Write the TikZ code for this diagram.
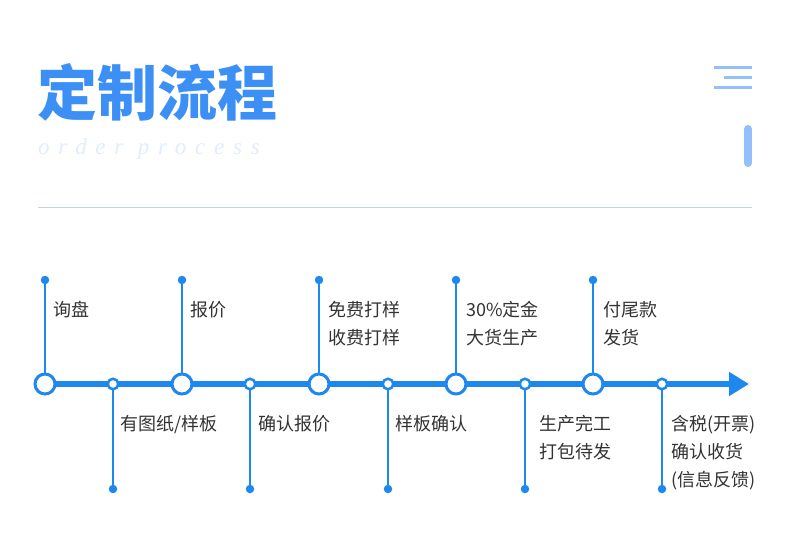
\documentclass[tikz,border=0pt]{standalone}
\usepackage{fontspec}
\usetikzlibrary{arrows.meta}
\setmainfont{Noto Sans CJK SC}
\newfontfamily\titlefont{Noto Sans CJK SC}
\newfontfamily\ordfont{Liberation Serif}[LetterSpace=38]
\definecolor{mainblue}{HTML}{1F88EE}
\definecolor{titleblue}{HTML}{3B8FF5}
\definecolor{textgray}{HTML}{333333}
\definecolor{iconblue}{HTML}{93C0FA}
\definecolor{ordblue}{HTML}{E2EDFC}
\definecolor{sepline}{HTML}{C4D3E6}
\tikzset{
  bigc/.style={circle,draw=mainblue,line width=3pt,fill=white,minimum size=20pt,inner sep=0pt},
  smallc/.style={circle,draw=mainblue,line width=2.5pt,fill=white,minimum size=10.5pt,inner sep=0pt},
  dotc/.style={circle,fill=mainblue,minimum size=8.5pt,inner sep=0pt},
  vline/.style={draw=mainblue,line width=2pt},
  lbl/.style={anchor=north west,inner sep=0pt,align=left,text=textgray,font=\fontsize{18}{28}\selectfont},
}
\begin{document}
\begin{tikzpicture}[x=1pt,y=-1pt]
\useasboundingbox (0,0) rectangle (790,549);
\fill[white] (0,0) rectangle (790,549);
% title
\node[anchor=west,inner sep=0pt,text=titleblue,font=\titlefont\bfseries\fontsize{60}{60}\selectfont] (title) at (37,92) {定制流程};
\node[anchor=west,inner sep=0pt,text=ordblue,font=\ordfont\itshape\fontsize{23}{23}\selectfont] (sub) at (38,149) {order process};
% icon
\draw[iconblue,line width=3pt] (714,67) -- (752,67);
\draw[iconblue,line width=3pt] (724,77) -- (752,77);
\draw[iconblue,line width=3pt] (714,87) -- (752,87);
\draw[iconblue,line width=8pt,line cap=round] (748,129) -- (748,163);
% separator
\draw[sepline,line width=1pt] (38,207) -- (752,207);
% main line
\coordinate (tip) at (749,384);
\coordinate (start) at (45,384);
\draw[mainblue,line width=6pt,-{Triangle[length=20pt,width=23pt]}] (start) -- (tip);
% verticals
\foreach \i/\x in {1/45,2/182,3/319,4/456,5/593}{
  \node[dotc] (T\i) at (\x,280) {};
  \draw[vline] (T\i.center) -- (\x,384);
}
\foreach \i/\x in {1/113,2/250,3/388,4/525,5/662}{
  \node[dotc] (D\i) at (\x,489) {};
  \draw[vline] (D\i.center) -- (\x,384);
}
\foreach \i/\x in {1/45,2/182,3/319,4/456,5/593}{
  \node[bigc] (B\i) at (\x,384) {};
}
\foreach \i/\x in {1/113,2/250,3/388,4/525,5/662}{
  \node[smallc] (S\i) at (\x,384) {};
}
% labels top
\node[lbl] (L1) at (53,301) {询盘};
\node[lbl] (L2) at (190,301) {报价};
\node[lbl] (L3) at (328,301) {免费打样\\收费打样};
\node[lbl] (L4) at (466,301) {30\%定金\\大货生产};
\node[lbl] (L5) at (603,301) {付尾款\\发货};
% labels bottom
\node[lbl] (M1) at (120,415) {有图纸/样板};
\node[lbl] (M2) at (258,415) {确认报价};
\node[lbl] (M3) at (395,415) {样板确认};
\node[lbl] (M4) at (539,415) {生产完工\\打包待发};
\node[lbl] (M5) at (671,415) {含税(开票)\\确认收货\\(信息反馈)};
\end{tikzpicture}
\end{document}
